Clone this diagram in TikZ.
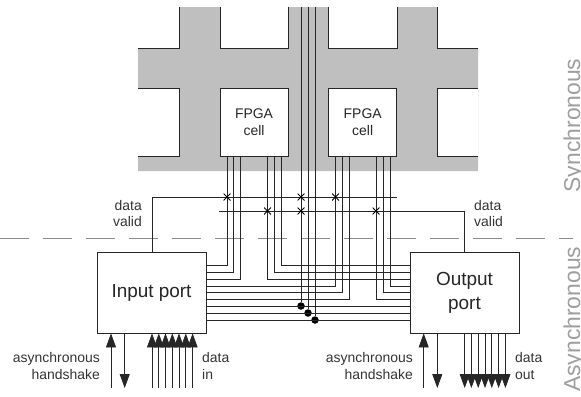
\documentclass[tikz,border=0pt]{standalone}
\usepackage{fontspec}
\setmainfont{Liberation Sans}
\usetikzlibrary{arrows.meta}
\tikzset{
  cellbox/.style={draw=black!85,line width=0.8bp,fill=white,minimum width=68bp,minimum height=67.5bp,inner sep=0pt,align=center,font=\fontsize{14}{16.5}\selectfont,text=black!85},
  portbox/.style={draw=black!85,line width=0.8bp,fill=white,minimum width=109bp,minimum height=81bp,inner sep=0pt,align=center,font=\fontsize{19}{24}\selectfont,text=black!85},
  wire/.style={draw=black!85,line width=0.75bp},
  bound/.style={draw=black!85,line width=0.8bp},
  lbl/.style={inner sep=0pt,font=\fontsize{14}{16.5}\selectfont,text=black!80},
  arrowup/.style={wire,{Triangle[length=14bp,width=10bp]}-},
  arrowdn/.style={wire,-{Triangle[length=14bp,width=10bp]}},
  junction/.style={circle,fill=black,inner sep=0pt,minimum size=7.5bp},
  crossmark/.style={inner sep=0pt,minimum size=7bp,path picture={\draw[black,line width=0.9bp] (path picture bounding box.south west)--(path picture bounding box.north east) (path picture bounding box.north west)--(path picture bounding box.south east);}},
  side/.style={inner sep=0pt,rotate=90,font=\fontsize{23}{23}\selectfont,text=black!38},
}
\begin{document}
\begin{tikzpicture}[x=1bp,y=-1bp]
\useasboundingbox (0,0) rectangle (581,396);
% grey routing fabric
\fill[black!25] (138,48) -- (179,48) -- (179,7) -- (220,7) -- (220,48) -- (288,48) -- (288,7) -- (328.5,7) -- (328.5,48) -- (397,48) -- (397,7) -- (437,7) -- (437,48) -- (478,48) -- (478,171) -- (138,171) -- cycle;
\fill[white] (138,88.5) rectangle (179,156);
\fill[white] (437,88.5) rectangle (478,156);
\draw[bound] (138,48) -- (179,48) -- (179,7);
\draw[bound] (220,7) -- (220,48) -- (288,48) -- (288,7);
\draw[bound] (328.5,7) -- (328.5,48) -- (397,48) -- (397,7);
\draw[bound] (437,7) -- (437,48) -- (478,48);
\draw[bound] (138,88.5) -- (179,88.5) -- (179,156) -- (138,156);
\draw[bound] (478,88.5) -- (437,88.5) -- (437,156) -- (478,156);
% dashed divider
\coordinate (dl) at (0.3,238);
\coordinate (dr) at (573,238);
\draw[draw=black!45,line width=0.6bp,dash pattern=on 28.7bp off 14.3bp] (dl) -- (dr);
% cells and ports
\node[cellbox] (c1) at (254,122.2) {FPGA\\cell};
\node[cellbox] (c2) at (362.7,122.2) {FPGA\\cell};
\node[portbox] (ip) at (151.5,292.5) {Input port};
\node[portbox] (op) at (464.5,292.5) {Output\\port};
% data valid lines
\coordinate (v1e) at (397,197);
\coordinate (v2s) at (219,211);
\draw[wire] (ip.north -| 152,0) |- (v1e);
\draw[wire] (v2s) -| (op.north -| 464,0);
% input to cell 1
\draw[wire] (ip.east |- 0,265.5) -| (c1.south -| 227,0);
\draw[wire] (ip.east |- 0,272) -| (c1.south -| 233.5,0);
\draw[wire] (ip.east |- 0,279) -| (c1.south -| 240,0);
% cell 1 to output
\draw[wire] (c1.south -| 267.5,0) |- (op.west |- 0,279);
\draw[wire] (c1.south -| 274,0) |- (op.west |- 0,272);
\draw[wire] (c1.south -| 281,0) |- (op.west |- 0,265.5);
% input to cell 2
\draw[wire] (ip.east |- 0,286) -| (c2.south -| 335.5,0);
\draw[wire] (ip.east |- 0,292.7) -| (c2.south -| 342,0);
\draw[wire] (ip.east |- 0,299.3) -| (c2.south -| 349,0);
% cell 2 to output
\draw[wire] (c2.south -| 376,0) |- (op.west |- 0,299.3);
\draw[wire] (c2.south -| 383,0) |- (op.west |- 0,292.7);
\draw[wire] (c2.south -| 390,0) |- (op.west |- 0,286);
% bus lines and central verticals
\node[junction] (j1) at (301,306) {};
\node[junction] (j2) at (308,313) {};
\node[junction] (j3) at (315,320) {};
\coordinate (t1) at (301,7);
\coordinate (t2) at (308,7);
\coordinate (t3) at (315,7);
\draw[wire] (t1) -- (j1);
\draw[wire] (t2) -- (j2);
\draw[wire] (t3) -- (j3);
\draw[wire] (ip.east |- j1) -- (op.west |- j1);
\draw[wire] (ip.east |- j2) -- (op.west |- j2);
\draw[wire] (ip.east |- j3) -- (op.west |- j3);
% crossings
\node[crossmark] (x1) at (227,197) {};
\node[crossmark] (x2) at (301,197) {};
\node[crossmark] (x3) at (335.5,197) {};
\node[crossmark] (x4) at (267.5,211) {};
\node[crossmark] (x5) at (301,211) {};
\node[crossmark] (x6) at (376,211) {};
% input port arrows
\coordinate (a) at (111,388); \draw[arrowup] (ip.south -| 111,0) -- (a);
\coordinate (b) at (124.7,388); \draw[arrowdn] (ip.south -| 124.7,0) -- (b);
\foreach \i/\x in {1/152,2/158.8,3/165.5,4/172.3,5/179,6/185.8,7/192.6}{
  \coordinate (di\i) at (\x,388);
  \draw[arrowup] (ip.south -| \x,0) -- (di\i);
}
% output port arrows
\coordinate (c) at (423.7,388); \draw[arrowup] (op.south -| 423.7,0) -- (c);
\coordinate (d) at (437.3,388); \draw[arrowdn] (op.south -| 437.3,0) -- (d);
\foreach \i/\x in {1/464.7,2/471.4,3/478.2,4/485,5/491.8,6/498.6,7/505.4}{
  \coordinate (do\i) at (\x,388);
  \draw[arrowdn] (op.south -| \x,0) -- (do\i);
}
% labels
\node[lbl,anchor=base east] (l1) at (142,210) {data};
\node[lbl,anchor=base east] (l2) at (142,226.5) {valid};
\node[lbl,anchor=base west] (l3) at (474,210) {data};
\node[lbl,anchor=base west] (l4) at (474,226.5) {valid};
\node[lbl,anchor=base east] (l5) at (100,362.5) {asynchronous};
\node[lbl,anchor=base east] (l6) at (100,379) {handshake};
\node[lbl,anchor=base west] (l7) at (202,362.5) {data};
\node[lbl,anchor=base west] (l8) at (202,379) {in};
\node[lbl,anchor=base east] (l9) at (413,362.5) {asynchronous};
\node[lbl,anchor=base east] (l10) at (413,379) {handshake};
\node[lbl,anchor=base west] (l11) at (515,362.5) {data};
\node[lbl,anchor=base west] (l12) at (515,379) {out};
\node[side,anchor=base west] (s1) at (580,192.5) {Synchronous};
\node[side,anchor=base west] (s2) at (580,392) {Asynchronous};
\end{tikzpicture}
\end{document}
